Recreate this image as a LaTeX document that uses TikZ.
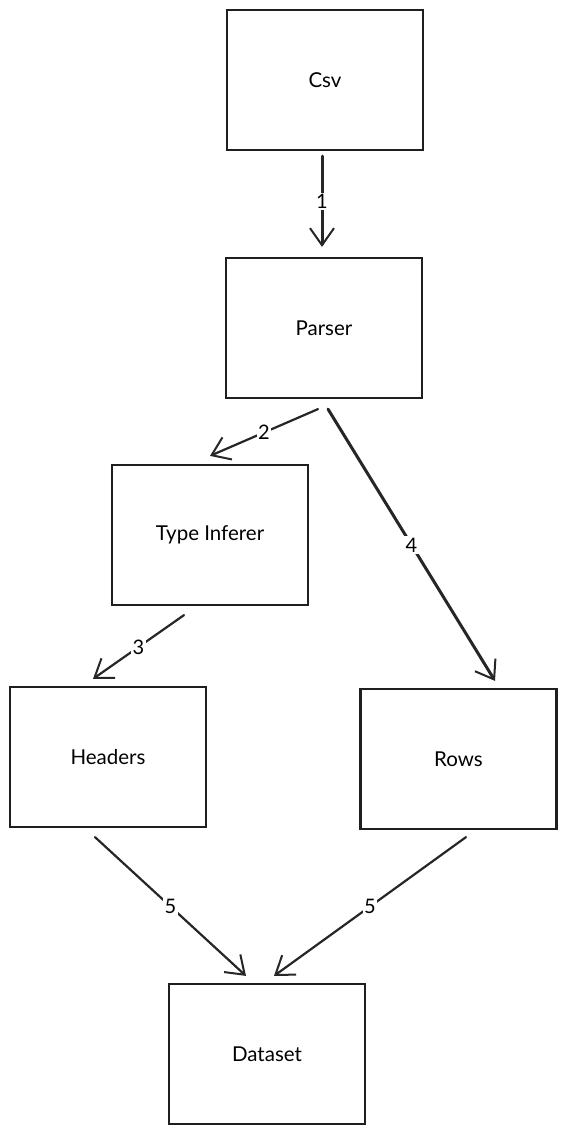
\documentclass[tikz,border=0pt]{standalone}
\usepackage{fontspec}
\setmainfont{Lato}
\usetikzlibrary{arrows.meta,calc}
\begin{document}
\begin{tikzpicture}[x=1pt,y=-1pt,
  box/.style={draw=black!88, line width=2.2pt, minimum width=196pt, minimum height=140pt,
    inner sep=0pt, font=\fontsize{20.5}{24}\selectfont},
  flow/.style={draw=black!85, line width=2.2pt, line cap=round,
    -{Straight Barb[length=17pt,width=24pt,line width=2pt]}},
  lbl/.style={fill=white, inner sep=1.5pt, font=\fontsize{20}{24}\selectfont}]
\useasboundingbox (0,0) rectangle (567,1134);
\fill[white] (0,0) rectangle (567,1134);

% stages of the pipeline
\node[box] (csv)     at (325,80)    {Csv};
\node[box] (parser)  at (324,328)   {Parser};
\node[box] (infer)   at (210,535)   {Type Inferer};
\node[box] (headers) at (108,757)   {Headers};
\node[box] (rows)    at (458.5,759) {Rows};
\node[box] (dataset) at (267,1054)  {Dataset};

% numbered data flow
\draw[flow, line width=3pt] ($(csv.south)+(-3,5)$) -- node[lbl]{1} ($(parser.north)+(-2,-10)$);
\draw[flow] ($(parser.south)+(-6,10)$) -- node[lbl]{2} ($(infer.north)+(0,-8)$);
\draw[flow] ($(infer.south)+(-26,9)$) -- node[lbl]{3} ($(headers.north)+(-15,-7)$);
\draw[flow, line width=3pt] ($(parser.south)+(4,10)$) -- node[lbl]{4} ($(rows.north)+(36.5,-7)$);
\draw[flow] ($(headers.south)+(-13,9)$) -- node[lbl]{5} ($(dataset.north)+(-21,-7)$);
\draw[flow] ($(rows.south)+(7.5,7)$) -- node[lbl]{5} ($(dataset.north)+(7,-7)$);
\end{tikzpicture}
\end{document}
